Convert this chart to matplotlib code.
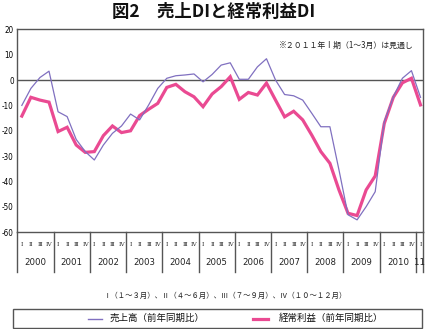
import matplotlib
matplotlib.use("Agg")
import matplotlib.pyplot as plt
from matplotlib.lines import Line2D
from matplotlib.patches import Rectangle

plt.rcParams['font.family'] = ['Noto Sans CJK JP', 'DejaVu Sans']

years = ["2000", "2001", "2002", "2003", "2004", "2005", "2006",
         "2007", "2008", "2009", "2010", "11"]
quarter_marks = ["Ⅰ", "Ⅱ", "Ⅲ", "Ⅳ"]

# 売上高 DI (前年同期比), 2000Q1 .. 2011Q1
sales = [-10, -3.3, 1, 3.5, -12.5, -14.4, -23.4, -28.2, -31.5, -25.6,
         -21, -18.1, -13.4, -15.7, -9.8, -3.3, 0.7, 1.7, 2, 2.4,
         -0.7, 2.2, 5.9, 6.8, 0.3, 0.3, 5.2, 8.4, 0, -5.7,
         -6.2, -7.9, -13.1, -18.4, -18.4, -35.4, -53.1, -55.1, -49.9, -44,
         -16.4, -6.6, 0.7, 3.7, -6.8]
# 経常利益 DI (前年同期比)
profit = [-14.2, -6.8, -7.9, -8.7, -20.3, -18.6, -25.6, -28.5, -28.2, -21.9,
          -18.1, -20.7, -20, -14, -11.5, -9.2, -2.9, -1.7, -4.6, -6.6,
          -10.5, -5.5, -2.6, 1.3, -7.6, -4.9, -5.9, -1.2, -7.9, -14.5,
          -12.3, -15.7, -21.7, -28.2, -32.8, -43.3, -52.5, -53.4, -43.3, -37.8,
          -17.1, -6.8, -1.1, 0.7, -9.8]
yticks = [20, 10, 0, -10, -20, -30, -40, -50, -60]

SALES_C = "#8070c0"
PROFIT_C = "#ea4a92"
FRAME_C = "#555555"
NARROW = dict(family=['DejaVu Sans'], fontstretch='condensed')

fig = plt.figure(figsize=(4.27, 3.29), dpi=100)
ax = fig.add_axes([17.3 / 427, 1 - 232.3 / 329, (423.5 - 17.3) / 427, 203 / 329])

n = len(sales)
x = [i + 0.5 for i in range(n)]
xmax = 44.83
ax.set_xlim(0, xmax)
ax.set_ylim(-60, 20)

ax.axhline(0, color=FRAME_C, lw=1.0, zorder=1)
ax.plot(x, sales, color=SALES_C, lw=0.9, zorder=3)
ax.plot(x, profit, color=PROFIT_C, lw=2.3, zorder=2, solid_joinstyle='miter')

for s in ax.spines.values():
    s.set_color(FRAME_C)
    s.set_linewidth(1.0)

ax.set_yticks(yticks)
ax.set_yticklabels([str(v) for v in yticks], fontsize=5.8, **NARROW)
ax.tick_params(axis='y', length=0, pad=2.5)
ax.set_xticks([])

# year dividers and labels below the plot
trans = ax.get_xaxis_transform()
lo = -39.7 / 203
for k in range(len(years)):
    ax.plot([4 * k, 4 * k], [0, lo], transform=trans, color=FRAME_C,
            lw=1.0, clip_on=False)
ax.plot([xmax, xmax], [0, lo], transform=trans, color=FRAME_C,
        lw=1.0, clip_on=False)

for i in range(n):
    ax.text(i + 0.5, -11.7 / 203, quarter_marks[i % 4], transform=trans,
            ha='center', va='center', fontsize=4.2,
            family=['DejaVu Serif', 'Noto Sans CJK JP'], color="#333333")

for k, yr in enumerate(years):
    cx = 4 * k + 2 if k < len(years) - 1 else (44 + xmax) / 2
    ax.text(cx, -30.5 / 203, yr, transform=trans, ha='center', va='center',
            fontsize=6.8, color="#222222", **NARROW)

ax.text(0.975, 0.92, "※２０１１年Ⅰ期（1～3月）は見通し", transform=ax.transAxes,
        ha='right', va='center', fontsize=5.7, color="#222222")

fig.text(0.5, 1 - 12 / 329, "図2　売上DIと経常利益DI", ha='center', va='center',
         fontsize=12.5, fontweight='bold', color="#111111")

fig.text(225 / 427, 1 - 296 / 329,
         "Ⅰ（１～３月）、Ⅱ（４～６月）、Ⅲ（７～９月）、Ⅳ（１０～１２月）",
         ha='center', va='center', fontsize=5.3, color="#222222")

# legend box
fig.add_artist(Rectangle((13 / 427, 1 - 328 / 329), 409 / 427, 19 / 329,
                         transform=fig.transFigure, fill=False,
                         edgecolor=FRAME_C, lw=1.0))
ly = 1 - 318.5 / 329
fig.add_artist(Line2D([88 / 427, 102 / 427], [ly, ly], transform=fig.transFigure,
                      color=SALES_C, lw=1.0))
fig.text(110 / 427, ly, "売上高（前年同期比）", ha='left', va='center',
         fontsize=6.8, color="#111111")
fig.add_artist(Line2D([253 / 427, 268 / 427], [ly, ly], transform=fig.transFigure,
                      color=PROFIT_C, lw=2.3))
fig.text(279 / 427, ly, "経常利益（前年同期比）", ha='left', va='center',
         fontsize=6.8, color="#111111")

fig.savefig("out.png", dpi=100)
